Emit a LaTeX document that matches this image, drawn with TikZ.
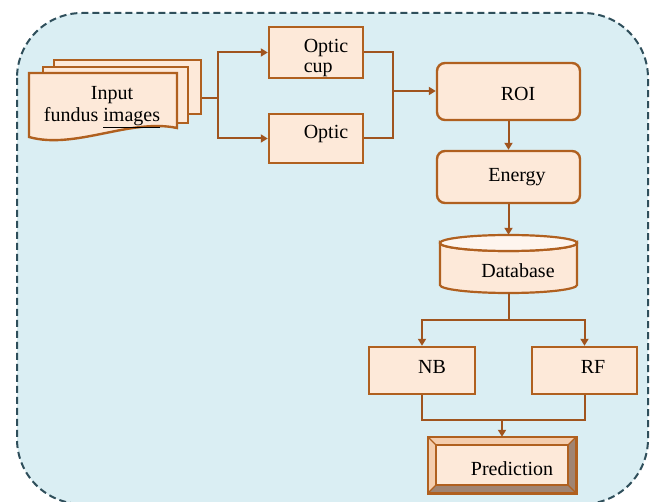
\documentclass[tikz,border=0pt]{standalone}
\usepackage{fontspec}
\setmainfont{Liberation Serif}
\usetikzlibrary{arrows.meta}
\definecolor{bgblue}{HTML}{DAEEF3}
\definecolor{framec}{HTML}{2F4F5B}
\definecolor{peach}{HTML}{FDE9D9}
\definecolor{peachtop}{HTML}{FEF5EE}
\definecolor{brd}{HTML}{B0601F}
\definecolor{lnc}{HTML}{A0541E}
\definecolor{bevl}{HTML}{F4CDAE}
\definecolor{bevd}{HTML}{A08472}
\begin{document}
\begin{tikzpicture}[x=1pt,y=-1pt,
  box/.style={draw=brd,fill=peach,line width=2.4pt,inner sep=0pt,rectangle},
  rbox/.style={box,rounded corners=8pt},
  sheet/.style={box,anchor=north west},
  txt/.style={font=\fontsize{20}{23}\selectfont,inner sep=0pt,align=left,text=black},
  conn/.style={draw=lnc,line width=2pt},
  arr/.style={conn,-{Triangle[width=8pt,length=7pt]}}]
\useasboundingbox (0,0) rectangle (656,502);
\begin{scope}
\clip (0,0) rectangle (656,502);
\fill[white] (0,0) rectangle (656,502);
\draw[framec,fill=bgblue,line width=2pt,dash pattern=on 7pt off 4pt,rounded corners=65pt] (17,13) rectangle (648,504);
\end{scope}
% input document stack
\node[sheet,minimum width=147,minimum height=54] (s3) at (53,59) {};
\node[sheet,minimum width=145,minimum height=56] (s2) at (42,66) {};
\draw[box] (29,73) -- (177,73) -- (177,128) .. controls (130,118) and (75,150) .. (29,137) -- cycle;
\node[txt] (tin) at (112,95) {Input};
\node[txt] (tfun) at (102,118) {fundus \underline{images}};
% optic boxes
\node[box,minimum width=94,minimum height=51] (cup) at (316,52.5) {};
\node[txt,align=left] (tcup) at (326,58) {Optic\\[-3pt]cup};
\node[box,minimum width=94,minimum height=49] (optic) at (316,138.5) {};
\node[txt] (topt) at (326,134) {Optic};
% ROI, Energy
\node[rbox,minimum width=143,minimum height=57] (roi) at (508.5,91.5) {};
\node[txt] (troi) at (518,94) {ROI};
\node[rbox,minimum width=143,minimum height=52] (energy) at (508.5,177) {};
\node[txt] (tene) at (517,177) {Energy};
% Database cylinder
\node[inner sep=0pt,minimum width=137,minimum height=58] (db) at (508.5,264) {};
\draw[draw=brd,fill=peach,line width=2.2pt] (440,243) -- (440,285) arc[start angle=180,end angle=360,x radius=68.5,y radius=-8] -- (577,243) arc[start angle=0,end angle=180,x radius=68.5,y radius=8] -- cycle;
\draw[draw=brd,fill=peachtop,line width=2.2pt] (508.5,243) ellipse[x radius=68.5,y radius=8];
\node[txt] (tdb) at (518,271) {Database};
% NB, RF
\node[box,minimum width=106,minimum height=47] (nb) at (422,370.5) {};
\node[txt] (tnb) at (432,367) {NB};
\node[box,minimum width=105,minimum height=47] (rf) at (584.5,370.5) {};
\node[txt] (trf) at (593,367) {RF};
% Prediction bevel
\node[inner sep=0pt,minimum width=148,minimum height=56] (pred) at (502,465) {};
\fill[bevl] (pred.north west) -- (pred.north east) -- ([shift={(-8,8)}]pred.north east) -- ([shift={(8,8)}]pred.north west) -- cycle;
\fill[bevl] (pred.north west) -- ([shift={(8,8)}]pred.north west) -- ([shift={(8,-8)}]pred.south west) -- (pred.south west) -- cycle;
\fill[bevd] (pred.north east) -- (pred.south east) -- ([shift={(-8,-8)}]pred.south east) -- ([shift={(-8,8)}]pred.north east) -- cycle;
\fill[bevd] (pred.south west) -- ([shift={(8,-8)}]pred.south west) -- ([shift={(-8,-8)}]pred.south east) -- (pred.south east) -- cycle;
\draw[draw=brd,fill=peach,line width=1.6pt] ([shift={(8,8)}]pred.north west) rectangle ([shift={(-8,-8)}]pred.south east);
\draw[draw=brd,line width=1.2pt] (pred.north west) -- ([shift={(8,8)}]pred.north west)
  (pred.north east) -- ([shift={(-8,8)}]pred.north east)
  (pred.south west) -- ([shift={(8,-8)}]pred.south west)
  (pred.south east) -- ([shift={(-8,-8)}]pred.south east);
\draw[draw=brd,line width=2.6pt] (pred.north west) rectangle (pred.south east);
\node[txt] (tpred) at (512,469) {Prediction};
% connectors
\coordinate (j1) at (218,98);
\coordinate (j2) at (393,91);
\coordinate (j3) at (508.5,320);
\coordinate (j4) at (502,420);
\draw[conn] (s3.east |- j1) -- (j1);
\draw[arr] (j1) |- (cup.west);
\draw[arr] (j1) |- (optic.west);
\draw[conn] (cup.east) -| (j2);
\draw[conn] (optic.east) -| (j2);
\draw[arr] (j2) -- (j2 -| roi.west);
\draw[arr] (roi.south) -- (energy.north);
\draw[arr] (energy.south) -- (db.north);
\draw[conn] (db.south) -- (j3);
\draw[arr] (j3) -| (nb.north);
\draw[arr] (j3) -| (rf.north);
\draw[conn] (nb.south) |- (j4) -| (rf.south);
\draw[arr] (j4) -- (pred.north);
\end{tikzpicture}
\end{document}
